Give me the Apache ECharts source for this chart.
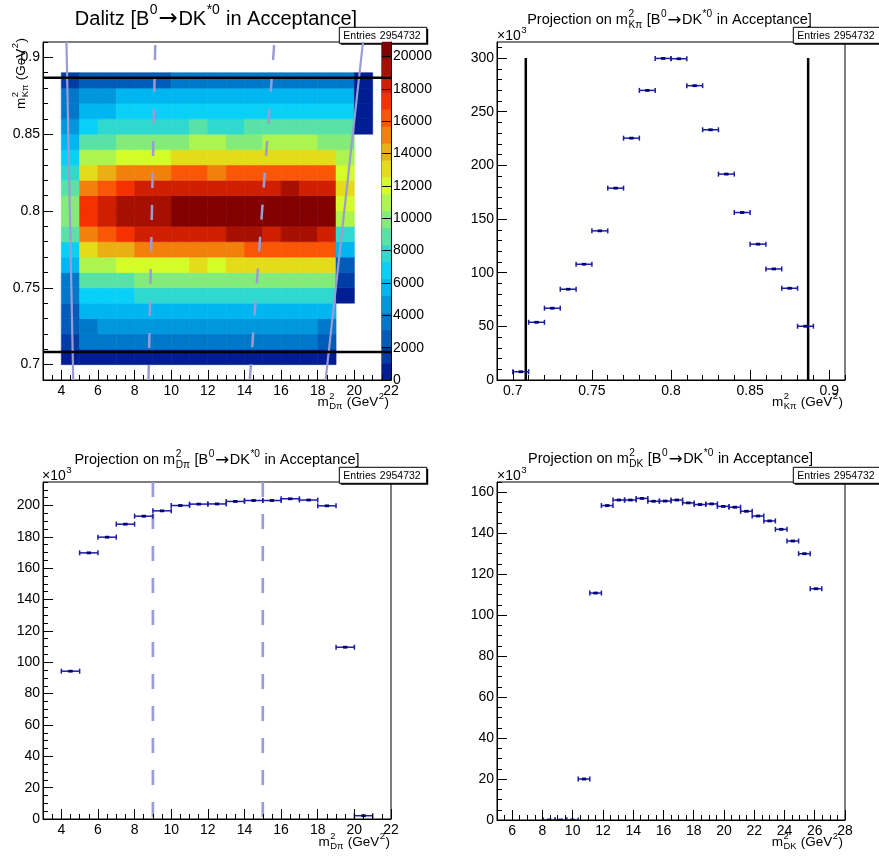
<!DOCTYPE html>
<html><head><meta charset="utf-8">
<script src="https://cdn.jsdelivr.net/npm/echarts@6/dist/echarts.min.js"></script>
<style>html,body{margin:0;padding:0;background:#fff}#c{width:879px;height:856px}</style>
</head><body><div id="c"></div><script>
const FONT = '"Liberation Sans", Arial, Helvetica, sans-serif';

// ================= DATA =================
const entriesText = '2954732';

// --- Dalitz 2D histogram: rows = m2Kpi bins (lower edge 0.70 .. 0.88), columns = m2Dpi bins (lower edge 4 .. 20)
const dalitzXLow = 4, dalitzXBinWidth = 1;
const dalitzYLow = 0.70, dalitzYBinWidth = 0.01;
const dalitzCounts = [
  [520,520,520,520,520,520,520,520,520,520,520,520,520,520,520,null,null],
  [1570,3660,3660,3660,3660,3660,3660,3660,3660,3660,3660,3660,3660,3660,2610,null,null],
  [2610,3660,4700,4700,4700,4700,4700,4700,4700,4700,4700,4700,4700,4700,3660,null,null],
  [2610,5750,5750,5750,5750,5750,5750,5750,5750,5750,5750,5750,5750,5750,5750,null,null],
  [3660,6790,6790,6790,7840,7840,7840,7840,7840,7840,7840,7840,7840,7840,7840,520,null],
  [3660,8880,8880,8880,9930,9930,9930,9930,9930,9930,9930,9930,9930,9930,9930,1570,null],
  [5750,10970,10970,12020,12020,12020,12020,13060,12020,13060,13060,13060,13060,13060,13060,2610,null],
  [6790,13060,14110,14110,15150,15150,15150,15150,15150,15150,16200,16200,16200,16200,16200,5750,null],
  [8880,15150,16200,17240,18290,18290,18290,18290,18290,19330,19330,18290,19330,19330,18290,7840,null],
  [9930,17240,18290,19330,19330,19330,20380,20380,20380,20380,20380,20380,20380,20380,20380,10970,null],
  [9930,17240,18290,19330,19330,19330,20380,20380,20380,20380,20380,20380,20380,20380,20380,12020,null],
  [8880,15150,16200,17240,18290,18290,18290,18290,18290,18290,18290,18290,19330,18290,18290,13060,null],
  [7840,13060,14110,15150,15150,15150,16200,16200,15150,16200,16200,16200,16200,16200,16200,12020,null],
  [6790,10970,10970,12020,12020,12020,13060,13060,13060,13060,13060,13060,13060,13060,13060,10970,null],
  [5750,8880,8880,9930,9930,9930,9930,10970,10970,9930,9930,10970,10970,10970,9930,9930,null],
  [4700,6790,7840,7840,7840,7840,7840,8880,7840,7840,8880,8880,8880,8880,8880,8880,520],
  [3660,5750,5750,6790,6790,6790,6790,6790,6790,6790,6790,6790,6790,6790,6790,6790,520],
  [3660,4700,4700,5750,5750,5750,5750,5750,5750,5750,5750,5750,5750,5750,5750,5750,520],
  [1570,2610,2610,2610,2610,2610,3660,3660,3660,3660,3660,3660,3660,3660,3660,3660,520]
];
const zMax = 20900, nContours = 20;
const zTicks = [0,2000,4000,6000,8000,10000,12000,14000,16000,18000,20000];

// boundary lines drawn on the Dalitz plot (m2Dpi, m2Kpi)
const boundarySolidLeft  = [[4.28,0.91],[4.65,0.69]];
const boundarySolidRight = [[20.47,0.91],[18.43,0.69]];
const boundaryDashLeft   = [[9.13,0.908],[8.76,0.69]];
const boundaryDashRight  = [[15.62,0.908],[14.29,0.69]];
const kpiCuts = [0.7082, 0.8867];
const kpiCutLineTop = 300;          // x10^3
const dpiCuts = [9, 15];

// --- projection on m2Kpi (x10^3)
const kpiLow = 0.70, kpiBinWidth = 0.01;
const kpiCounts = [7.7,53.8,66.9,84.6,107.9,139.0,178.8,225.4,269.9,299.7,299.4,274.3,233.2,191.9,156.1,126.6,103.5,85.5,50.1];
// --- projection on m2Dpi (x10^3)
const dpiLow = 4, dpiBinWidth = 1;
const dpiCounts = [94.3,169.8,179.8,188.1,193.2,196.6,200.0,200.9,201.0,202.6,203.2,203.2,204.3,203.5,199.8,109.6,2.1];
// --- projection on m2DK (x10^3), 30 bins on [5,28]
const dkLow = 5, dkBinWidth = 23/30;
const dkCounts = [null,null,null,null,0.02,0.02,0.02,20.0,110.8,153.5,156.2,156.2,157.0,155.6,155.7,156.2,154.8,154.0,154.3,153.1,152.7,150.7,148.4,146.0,141.9,136.2,130.0,112.9,null,null];

// --- axes ranges and tick labels
const tlX = {min:3, max:22, ticks:[4,6,8,10,12,14,16,18,20,22], minorStep:0.5};
const tlY = {min:0.69, max:0.91, ticks:[0.7,0.75,0.8,0.85,0.9], minorStep:0.01};
const trX = {min:0.69, max:0.91, ticks:[0.7,0.75,0.8,0.85,0.9], minorStep:0.01};
const trY = {min:0, max:315, ticks:[0,50,100,150,200,250,300], minorStep:10};
const blX = {min:3, max:22, ticks:[4,6,8,10,12,14,16,18,20,22], minorStep:0.5};
const blY = {min:0, max:215, ticks:[0,20,40,60,80,100,120,140,160,180,200], minorStep:5};
const brX = {min:5, max:28, ticks:[6,8,10,12,14,16,18,20,22,24,26,28], minorStep:0.5};
const brY = {min:0, max:165, ticks:[0,20,40,60,80,100,120,140,160], minorStep:5};

// ================= STYLE / HELPERS =================
const stops = [0.00,0.34,0.61,0.84,1.00];
const sR = [0.00,0.00,0.87,1.00,0.51], sG = [0.00,0.81,1.00,0.20,0.00], sB = [0.51,1.00,0.12,0.00,0.00];
function grad(f){
  let k=0; while(k<stops.length-2 && f>stops[k+1]) k++;
  const t=(f-stops[k])/(stops[k+1]-stops[k]);
  const c=(a)=>Math.round(255*(a[k]+(a[k+1]-a[k])*t));
  return 'rgb('+c(sR)+','+c(sG)+','+c(sB)+')';
}
const palette = [];
for(let i=0;i<nContours;i++){ palette.push(grad(Math.floor((i+0.99)*255/nContours)/254)); }
function bandColor(v){ return palette[Math.max(0,Math.min(nContours-1,Math.floor(v/(zMax/nContours))))]; }

function minorList(ax){
  const out=[];
  const start=Math.ceil(ax.min/ax.minorStep-1e-9);
  for(let k=start;k*ax.minorStep<=ax.max+1e-9;k++){ out.push(+(k*ax.minorStep).toFixed(6)); }
  return out;
}
function fmtNum(v){ return String(+(+v).toFixed(4)); }

function majorAxis(dim, gi, ax, extra){
  return Object.assign({
    type:'value', gridIndex:gi, min:ax.min, max:ax.max, position: dim==='x'?'bottom':'left', z:10,
    axisLine:{show:true,onZero:false,lineStyle:{color:'#000',width:1}},
    axisTick:{show:true,inside:true,length:10,customValues:ax.ticks,lineStyle:{color:'#000',width:1}},
    axisLabel:{show:true,customValues:ax.ticks,formatter:fmtNum,color:'#000',fontSize:14,fontFamily:FONT,margin:dim==='x'?4:3,hideOverlap:false},
    splitLine:{show:false}, minorTick:{show:false}, minorSplitLine:{show:false}
  }, extra||{});
}
function minorAxis(dim, gi, ax){
  return {
    type:'value', gridIndex:gi, min:ax.min, max:ax.max, position: dim==='x'?'bottom':'left', z:10,
    axisLine:{show:false,onZero:false},
    axisTick:{show:true,inside:true,length:5,customValues:minorList(ax),lineStyle:{color:'#000',width:1}},
    axisLabel:{show:false}, splitLine:{show:false}
  };
}

const ctx = document.createElement('canvas').getContext('2d');
function tw(t,s,fam){ ctx.font = s+'px '+(fam||FONT); return ctx.measureText(t).width; }
function txt(t,x,y,s,extra,fam){
  return Object.assign({type:'text', x:x, y:y, silent:true, style:{text:t, font:s+'px '+(fam||FONT), fill:'#000', align:'left', verticalAlign:'middle'}}, extra||{});
}
// parts: strings, {t, fam, scale} or {sup, sub}
function mathText(parts, size, o){
  const ch=[]; let x=0; const ss=size*0.7;
  parts.forEach(p=>{
    if(typeof p==='string'){ ch.push(txt(p,x,0,size)); x+=tw(p,size); }
    else if(p.t){ const s2=size*(p.scale||1); ch.push(txt(p.t,x+(p.pad||0),p.dy?p.dy*size:0,s2,null,p.fam)); x+=tw(p.t,s2,p.fam)+2*(p.pad||0); }
    else {
      let w=0;
      if(p.sup){ ch.push(txt(p.sup,x+0.5,-0.42*size,ss)); w=Math.max(w,tw(p.sup,ss)+1); }
      if(p.sub){ ch.push(txt(p.sub,x+0.5,0.36*size,ss)); w=Math.max(w,tw(p.sub,ss)+1); }
      x+=w;
    }
  });
  const off = o.align==='center' ? -x/2 : (o.align==='right' ? -x : 0);
  ch.forEach(c=>{ c.x+=off; });
  return {type:'group', x:o.x, y:o.y, rotation:o.rotation||0, silent:true, children:ch};
}
const ARROW = {t:'\u2192', fam:'"DejaVu Sans", sans-serif', scale:1.15, pad:0.5, dy:0.02};
function titleParts(sub){ return ['Projection on m',{sup:'2',sub:sub},' [B',{sup:'0'},ARROW,'DK',{sup:'*0'},' in Acceptance]']; }
function axTitle(sub){ return ['m',{sup:'2',sub:sub},' (GeV',{sup:'2'},')']; }
function statsBox(x,y){
  const w=87.4,h=16;
  return {type:'group', silent:true, children:[
    {type:'rect', shape:{x:x+1.5,y:y+1.5,width:w,height:h}, style:{fill:'#000'}},
    {type:'rect', shape:{x:x,y:y,width:w,height:h}, style:{fill:'#fff',stroke:'#000',lineWidth:1}},
    txt('Entries',x+4,y+h/2+0.5,10.5),
    txt(entriesText,x+w-6,y+h/2+0.5,10.5,{style:{text:entriesText,font:'10.5px '+FONT,fill:'#000',align:'right',verticalAlign:'middle'}})
  ]};
}

// ================= SERIES DATA =================
const heatData=[];
dalitzCounts.forEach((row,r)=>row.forEach((v,c)=>{ if(v!==null) heatData.push([dalitzXLow+c*dalitzXBinWidth, dalitzYLow+r*dalitzYBinWidth, v]); }));
const cbData=[];
for(let i=0;i<nContours;i++) cbData.push([0, i*zMax/nContours, (i+1)*zMax/nContours, i]);
function projData(low,w,vals){ const d=[]; vals.forEach((v,i)=>{ if(v!==null) d.push([low+(i+0.5)*w, v, w/2]); }); return d; }

const ERR='#1c1ca4', MRK='#00007a';
function errRender(params, api){
  const xc=api.value(0), y=api.value(1), hw=api.value(2);
  const a=api.coord([xc-hw,y]), b=api.coord([xc+hw,y]), c=api.coord([xc,y]);
  const ls={stroke:ERR,lineWidth:1.5};
  return {type:'group', children:[
    {type:'line', shape:{x1:a[0],y1:a[1],x2:b[0],y2:b[1]}, style:ls},
    {type:'line', shape:{x1:a[0],y1:a[1]-2.5,x2:a[0],y2:a[1]+2.5}, style:ls},
    {type:'line', shape:{x1:b[0],y1:b[1]-2.5,x2:b[0],y2:b[1]+2.5}, style:ls},
    {type:'rect', shape:{x:c[0]-2.2,y:c[1]-1.4,width:4.4,height:2.8}, style:{fill:MRK}}
  ]};
}
function heatRender(params, api){
  const x0=api.value(0), y0=api.value(1), v=api.value(2);
  const p0=api.coord([x0,y0]), p1=api.coord([x0+dalitzXBinWidth, y0+dalitzYBinWidth]);
  const col=bandColor(v);
  return {type:'rect', shape:{x:p0[0],y:p1[1],width:p1[0]-p0[0],height:p0[1]-p1[1]}, style:{fill:col,stroke:col,lineWidth:0.6}};
}
function cbRender(params, api){
  const p0=api.coord([0,api.value(1)]), p1=api.coord([1,api.value(2)]);
  const col=palette[api.value(3)];
  return {type:'rect', shape:{x:p0[0],y:p1[1],width:p1[0]-p0[0],height:p0[1]-p1[1]}, style:{fill:col,stroke:col,lineWidth:0.5}};
}
const LAV='#9c9cd4';
function lineS(xi,yi,pts,color,width,dash){
  return {type:'line', xAxisIndex:xi, yAxisIndex:yi, data:pts, symbol:'none', silent:true, z:4, clip:true,
    lineStyle:{color:color,width:width,type:dash?[15,17]:'solid',cap:'butt'}};
}

// ================= OPTION =================
const gridBase={show:true,borderColor:'#000',borderWidth:1,backgroundColor:'transparent',containLabel:false,outerBoundsMode:'none'};
const option={
  animation:false,
  backgroundColor:'#fff',
  grid:[
    Object.assign({left:43,top:42,width:348,height:338},gridBase),
    Object.assign({left:382,top:42,width:9,height:338},gridBase),
    Object.assign({left:497,top:42,width:348,height:338},gridBase),
    Object.assign({left:43,top:482,width:348,height:337},gridBase),
    Object.assign({left:497,top:482,width:348,height:338},gridBase)
  ],
  xAxis:[
    majorAxis('x',0,tlX), minorAxis('x',0,tlX),
    {type:'value',gridIndex:1,min:0,max:1,show:false},
    majorAxis('x',2,trX), minorAxis('x',2,trX),
    majorAxis('x',3,blX), minorAxis('x',3,blX),
    majorAxis('x',4,brX), minorAxis('x',4,brX)
  ],
  yAxis:[
    majorAxis('y',0,tlY), minorAxis('y',0,tlY),
    majorAxis('y',1,{min:0,max:zMax,ticks:zTicks},{position:'right',axisTick:{show:true,inside:true,length:9,customValues:zTicks,lineStyle:{color:'#000',width:1}},axisLabel:{show:true,customValues:zTicks,formatter:fmtNum,color:'#000',fontSize:14,fontFamily:FONT,margin:2}}),
    majorAxis('y',2,trY), minorAxis('y',2,trY),
    majorAxis('y',3,blY), minorAxis('y',3,blY),
    majorAxis('y',4,brY), minorAxis('y',4,brY)
  ],
  series:[
    {type:'custom', xAxisIndex:0, yAxisIndex:0, data:heatData, renderItem:heatRender, clip:true, silent:true, z:2},
    {type:'custom', xAxisIndex:2, yAxisIndex:2, data:cbData, renderItem:cbRender, silent:true, z:2},
    lineS(0,0,boundarySolidLeft,LAV,2.2,false),
    lineS(0,0,boundarySolidRight,LAV,2.2,false),
    lineS(0,0,boundaryDashLeft,LAV,2.5,true),
    lineS(0,0,boundaryDashRight,LAV,2.5,true),
    lineS(0,0,[[tlX.min,kpiCuts[0]],[tlX.max,kpiCuts[0]]],'#000',2.5,false),
    lineS(0,0,[[tlX.min,kpiCuts[1]],[tlX.max,kpiCuts[1]]],'#000',2.5,false),
    lineS(3,3,[[kpiCuts[0],0],[kpiCuts[0],kpiCutLineTop]],'#000',2.5,false),
    lineS(3,3,[[kpiCuts[1],0],[kpiCuts[1],kpiCutLineTop]],'#000',2.5,false),
    {type:'custom', xAxisIndex:3, yAxisIndex:3, data:projData(kpiLow,kpiBinWidth,kpiCounts), renderItem:errRender, clip:true, silent:true, z:5},
    lineS(5,5,[[dpiCuts[0],blY.max],[dpiCuts[0],0]],LAV,2.7,true),
    lineS(5,5,[[dpiCuts[1],blY.max],[dpiCuts[1],0]],LAV,2.7,true),
    {type:'custom', xAxisIndex:5, yAxisIndex:5, data:projData(dpiLow,dpiBinWidth,dpiCounts), renderItem:errRender, clip:true, silent:true, z:5},
    {type:'custom', xAxisIndex:7, yAxisIndex:7, data:projData(dkLow,dkBinWidth,dkCounts), renderItem:errRender, clip:true, silent:true, z:5}
  ],
  graphic:{elements:[
    mathText(['Dalitz [B',{sup:'0'},ARROW,'DK',{sup:'*0'},' in Acceptance]'],20,{x:216,y:19,align:'center'}),
    mathText(titleParts('K\u03c0'),14.5,{x:669.5,y:20,align:'center'}),
    mathText(titleParts('D\u03c0'),14.5,{x:217,y:460,align:'center'}),
    mathText(titleParts('DK'),14.5,{x:670.5,y:459,align:'center'}),
    mathText(axTitle('D\u03c0'),13.5,{x:389,y:402,align:'right'}),
    mathText(axTitle('K\u03c0'),13.5,{x:843,y:402,align:'right'}),
    mathText(axTitle('D\u03c0'),13.5,{x:390,y:842,align:'right'}),
    mathText(axTitle('DK'),13.5,{x:843,y:842,align:'right'}),
    mathText(axTitle('K\u03c0'),13.5,{x:21,y:38,align:'right',rotation:Math.PI/2}),
    mathText(['\u00d710',{sup:'3'}],14,{x:497,y:36,align:'left'}),
    mathText(['\u00d710',{sup:'3'}],14,{x:42,y:476,align:'left'}),
    mathText(['\u00d710',{sup:'3'}],14,{x:497,y:476,align:'left'}),
    statsBox(339.3,27.3), statsBox(793.3,27.3), statsBox(339.3,467.3), statsBox(793.3,467.3)
  ]}
};
const chart=echarts.init(document.getElementById('c'),null,{renderer:'canvas'});
chart.setOption(option);
</script></body></html>
